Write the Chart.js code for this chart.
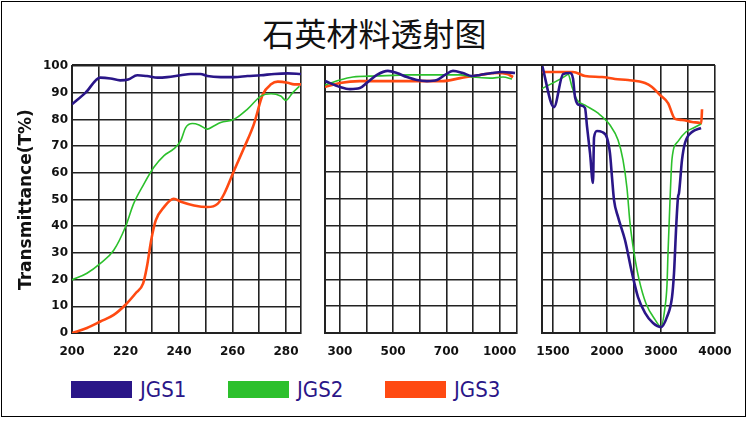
<!DOCTYPE html>
<html>
<head>
<meta charset="utf-8">
<title>石英材料透射图</title>
<script src="https://cdn.jsdelivr.net/npm/chart.js@4.4.1/dist/chart.umd.min.js"></script>
<style>
  body { margin: 0; background: #fff; }
  #page { position: relative; width: 749px; height: 426px; overflow: hidden; background: #fff; }
  #frame { position: absolute; left: 1px; top: 1px; width: 743px; height: 414px; border: 1px solid #000; }
  #title { position: absolute; left: 0; top: 12px; width: 749px; line-height: 40px; text-align: center;
           font-size: 32px; font-family: "Noto Sans CJK SC", sans-serif; color: #111; }
  #topline { position: absolute; left: 72px; top: 64px; width: 643px; height: 2px; background: #222; }
  .panel { position: absolute; top: 55px; }
  .item { position: absolute; top: 378px; height: 22px; display: flex; align-items: center; }
  .item .box { width: 61px; height: 17px; margin-right: 8px; }
  .item .txt { font-family: "Liberation Sans Narrow", "DejaVu Sans Condensed", sans-serif; font-size: 22px; color: #2a1688; }
</style>
</head>
<body>
<div id="page">
  <div id="frame"></div>
  <div id="title">石英材料透射图</div>
  <canvas id="uv" class="panel" width="306" height="308" style="left:0px"></canvas>
  <canvas id="mid" class="panel" width="206" height="308" style="left:318px"></canvas>
  <canvas id="ir" class="panel" width="205" height="308" style="left:535px"></canvas>
  <div id="topline"></div>
  <div id="legend"></div>
</div>
<script>
// series
const seriesNames = ['JGS1', 'JGS2', 'JGS3'];
const seriesColors = ['#2a1688', '#2cc02c', '#ff4a12'];
const seriesWidths = [2.6, 1.6, 2.6];

// y axis
const yTicks = [0, 10, 20, 30, 40, 50, 60, 70, 80, 90, 100];

// x axis, 200-285 nm (linear)
const uvGrid = [200, 210, 220, 230, 240, 250, 260, 270, 280];
const uvLabels = [200, 220, 240, 260, 280];
const uvRange = [200, 285.6];

// x axis, 300-1000 nm, labels evenly spaced two grid cells apart
const midLabels = [300, 500, 700, 1000];
const midRange = [244, 1098];

// x axis, 1500-4000 nm, labels evenly spaced two grid cells apart
const irLabels = [1500, 2000, 3000, 4000];
const irRange = [1398, 4000];

// [wavelength nm, T%]
const jgs1Uv = [[200,85.7],[205,90],[210.6,95.7],[214.4,95.4],[218,94.7],[221,95],[224.4,96.6],[228,96.3],[232,95.7],
  [235.6,95.9],[240.6,96.6],[244.4,97.1],[248,97.1],[250.6,96.3],[255.6,95.9],[260.6,95.9],[265.6,96.3],[270.6,96.6],
  [275.6,97.1],[280.6,97.3],[285.6,97.1]];
const jgs2Uv = [[200,19.9],[205.6,22.4],[210.6,26.1],[215.6,31],[220,39.8],[223,48.4],[226.9,55.9],[230.6,62.1],
  [234.4,66.5],[238,69],[240.6,72],[242.5,77],[245,78.5],[247.5,78],[250.6,76.4],[253,77.6],[255.6,78.9],[260.6,80.1],
  [265.6,83.9],[270.6,88.8],[274.4,89.7],[278,88.8],[280,87.2],[282.5,90.1],[285,92.5]];
const jgs3Uv = [[200,0],[205.6,1.9],[210.6,4.3],[215.6,6.8],[220,10.6],[223.8,14.9],[226.6,18.6],[228,24.8],[229.6,34.8],
  [231.3,42.2],[234.4,47.2],[238,50.3],[241,49.1],[245.6,47.8],[250.6,47.2],[254.4,48.4],[256.9,52.2],[260.6,60.9],
  [264.4,69.6],[268,78.3],[271.3,89.4],[274.4,93.2],[276.9,94.2],[280.6,93.8],[283,93.2],[285.6,93.2]];

const jgs1Mid = [[244,94],[300,91.8],[338,91],[375,91.4],[405,93.7],[439,96.3],[480,97.8],[514,97],[552,95.5],[589,94.4],
  [627,94],[665,94.4],[695,96.3],[737,97.8],[793,97],[844,95.9],[889,96.3],[957,97],[1014,97.4],[1087,97]];
const jgs2Mid = [[244,92.5],[300,94.4],[349,95.5],[439,95.9],[563,96.3],[777,96.3],[850,95.5],[946,95.1],[1019,95.5],[1070,94.8]];
const jgs3Mid = [[244,91.8],[300,93.3],[375,94],[500,94],[687,94],[777,95.1],[889,96.3],[985,97],[1042,96.6],[1076,95.5]];

const jgs1Ir = [[1398,100],[1509,84.3],[1593,96.6],[1657,97],[1685,95],[1704,88],[1750,85],[1796,84],[1815,77],[1843,67],
  [1870,56],[1880,73],[1907,75.4],[1954,75],[2000,72.8],[2055,67],[2093,58],[2130,49.6],[2204,43.3],[2333,34.7],
  [2463,22.4],[2574,13.4],[2704,7.5],[2852,3.7],[3000,2.2],[3111,6],[3204,13.4],[3241,22.4],[3259,29.9],[3278,38.4],
  [3315,50.7],[3333,52.2],[3389,64.6],[3444,70.9],[3574,75],[3741,76.5]];
const jgs2Ir = [[1389,91],[1630,96.3],[1639,96.6],[1676,91.8],[1722,87],[1796,85],[1917,82],[2055,77.6],[2204,72],
  [2296,64.6],[2370,54],[2426,41],[2500,30],[2593,20],[2722,11],[2889,5],[3000,2.4],[3070,9],[3111,18],[3130,30],
  [3167,49.6],[3204,65],[3315,71.5],[3460,75],[3600,76.5],[3740,78]];
const jgs3Ir = [[1398,97.4],[1685,97.4],[1796,95.9],[1954,95.5],[2148,94.8],[2389,94.4],[2704,93.3],[2833,91.8],
  [2981,88.8],[3130,85.8],[3259,79.9],[3389,79.5],[3574,78.7],[3722,78.4],[3745,78.2],[3760,83.5]];

const gridColor = '#222';
const tickFont = { family: 'DejaVu Sans', size: 12, weight: 'bold' };

// broken axis: label i sits on grid position 2*i, linear in between
function breakMap(labels) {
  return function (wl) {
    let i = 0;
    while (i < labels.length - 2 && wl > labels[i + 1]) i++;
    return 2 * i + 2 * (wl - labels[i]) / (labels[i + 1] - labels[i]);
  };
}

function makePanel(id, cfg) {
  const lo = cfg.toPos(cfg.range[0]);
  const hi = cfg.toPos(cfg.range[1]);
  const xTicks = cfg.grid.filter(v => v < hi - 1e-6).concat([hi]);
  return new Chart(document.getElementById(id), {
    type: 'line',
    data: {
      datasets: cfg.series.map((s, i) => ({
        label: seriesNames[i],
        data: s.map(p => ({ x: cfg.toPos(p[0]), y: p[1] })),
        borderColor: seriesColors[i],
        borderWidth: seriesWidths[i],
        pointRadius: 0,
        cubicInterpolationMode: 'monotone',
        fill: false
      }))
    },
    options: {
      responsive: false,
      animation: false,
      layout: { padding: { top: 10, bottom: 0, left: cfg.padLeft, right: cfg.padRight } },
      plugins: { legend: { display: false }, tooltip: { enabled: false } },
      scales: {
        x: {
          type: 'linear',
          min: lo,
          max: hi,
          afterBuildTicks: scale => {
            scale.ticks = xTicks.map(v => ({ value: v }));
          },
          afterFit: scale => { scale.height = 30; },
          ticks: {
            autoSkip: false,
            maxRotation: 0,
            padding: 0,
            color: '#111',
            font: tickFont,
            callback: v => cfg.label(v)
          },
          grid: { color: gridColor, lineWidth: 1.6, drawTicks: true, tickLength: 12, tickColor: 'rgba(0,0,0,0)' },
          border: { color: gridColor, width: 2 }
        },
        y: {
          min: 0,
          max: 100,
          afterBuildTicks: scale => {
            scale.ticks = yTicks.map(v => ({ value: v }));
          },
          afterFit: scale => { scale.width = cfg.yWidth; },
          ticks: { display: cfg.showY, padding: 4, color: '#111', font: tickFont },
          title: {
            display: cfg.showY,
            text: 'Transmittance(T%)',
            color: '#111',
            font: { family: 'DejaVu Sans', size: 17, weight: 'bold' },
            padding: { top: 16, bottom: 0 }
          },
          grid: { color: gridColor, lineWidth: 1.6, drawTicks: false },
          border: { color: gridColor, width: 2 }
        }
      }
    }
  });
}

const midPos = breakMap(midLabels);
const irPos = breakMap(irLabels);
const sixCells = [0, 1, 2, 3, 4, 5, 6];

makePanel('uv', {
  series: [jgs1Uv, jgs2Uv, jgs3Uv],
  toPos: v => v,
  range: uvRange,
  grid: uvGrid,
  label: v => (uvLabels.includes(v) ? String(v) : ''),
  padLeft: 0, padRight: 5, yWidth: 72, showY: true
});

makePanel('mid', {
  series: [jgs1Mid, jgs2Mid, jgs3Mid],
  toPos: midPos,
  range: midRange,
  grid: sixCells,
  label: v => (v % 2 === 0 && v / 2 < midLabels.length ? String(midLabels[v / 2]) : ''),
  padLeft: 7, padRight: 7, yWidth: 0, showY: false
});

makePanel('ir', {
  series: [jgs1Ir, jgs2Ir, jgs3Ir],
  toPos: irPos,
  range: irRange,
  grid: sixCells,
  label: v => (Math.abs(v - Math.round(v)) < 1e-6 && Math.round(v) % 2 === 0 ? String(irLabels[Math.round(v) / 2]) : ''),
  padLeft: 7, padRight: 25, yWidth: 0, showY: false
});

// legend
const legend = document.getElementById('legend');
seriesNames.forEach((name, i) => {
  const item = document.createElement('div');
  item.className = 'item';
  item.style.left = (71 + i * 157) + 'px';
  item.innerHTML = '<span class="box" style="background:' + seriesColors[i] + '"></span><span class="txt">' + name + '</span>';
  legend.appendChild(item);
});
</script>
</body>
</html>
